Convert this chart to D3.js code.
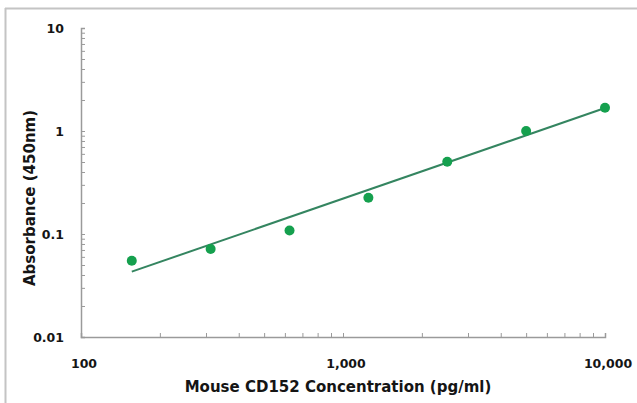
<!DOCTYPE html>
<html>
<head>
<meta charset="utf-8">
<script src="https://cdn.jsdelivr.net/npm/d3@7"></script>
<style>
  body { margin: 0; background: #fff; }
  svg { display: block; font-family: "DejaVu Sans", "Liberation Sans", sans-serif; }
  .tick-label { font-size: 12.5px; font-weight: bold; fill: #151515; }
  .axis-title { font-size: 15px; font-weight: bold; fill: #151515; }
</style>
</head>
<body>
<script>
// --- data ---
const concentrations = [156.25, 312.5, 625, 1250, 2500, 5000, 10000];
const absorbance = [0.055, 0.0715, 0.108, 0.225, 0.503, 1.0, 1.68];
// fitted standard curve (straight on log-log)
const fitX = [156.25, 10000];
const fitY = [0.0431, 1.67];
const xTickValues = [100, 1000, 10000];
const xTickLabels = ['100', '1,000', '10,000'];
const yTickValues = [0.01, 0.1, 1, 10];
const yTickLabels = ['0.01', '0.1', '1', '10'];

const W = 637, H = 403;
const plot = { left: 81, right: 605, top: 28, bottom: 337 };
const POINT_COLOR = '#15a04e', LINE_COLOR = '#348560', AXIS_COLOR = '#9a9a9a';

const svg = d3.select('body').append('svg').attr('width', W).attr('height', H);

// outer frame (top and left edges only visible)
svg.append('line').attr('x1', 5).attr('x2', W).attr('y1', 8.5).attr('y2', 8.5)
    .attr('stroke', '#c4c4c4').attr('stroke-width', 2);
svg.append('line').attr('x1', 5.5).attr('x2', 5.5).attr('y1', 8).attr('y2', H)
    .attr('stroke', '#c4c4c4').attr('stroke-width', 2);

const x = d3.scaleLog().domain([100, 10000]).range([plot.left, plot.right]);
const y = d3.scaleLog().domain([0.01, 10]).range([plot.bottom, plot.top]);

// minor ticks: every 1..9 multiple within each decade
const minor = (dom) => {
    const out = [];
    for (let e = Math.log10(dom[0]); e < Math.log10(dom[1]); e++) {
        for (let m = 1; m <= 9; m++) out.push(m * Math.pow(10, e));
    }
    out.push(dom[1]);
    return out;
};

// x axis, ticks pointing up into the plot
const xAxis = d3.axisBottom(x).tickValues(minor(x.domain())).tickSize(-4).tickFormat('');
const gx = svg.append('g').attr('transform', `translate(0,${plot.bottom})`).call(xAxis);
gx.select('.domain').attr('stroke', AXIS_COLOR).attr('stroke-width', 1.5);
gx.selectAll('.tick line').attr('stroke', AXIS_COLOR);

// y axis, ticks pointing right into the plot
const yAxis = d3.axisLeft(y).tickValues(minor(y.domain())).tickSize(-4).tickFormat('');
const gy = svg.append('g').attr('transform', `translate(${plot.left},0)`).call(yAxis);
gy.select('.domain').attr('stroke', AXIS_COLOR).attr('stroke-width', 1.5);
gy.selectAll('.tick line').attr('stroke', AXIS_COLOR);

// tick labels
svg.selectAll('.xlab').data(xTickValues).enter().append('text')
    .attr('class', 'tick-label').attr('text-anchor', 'middle')
    .attr('x', d => x(d) + 3).attr('y', 368)
    .text((d, i) => xTickLabels[i]);

svg.selectAll('.ylab').data(yTickValues).enter().append('text')
    .attr('class', 'tick-label').attr('text-anchor', 'end')
    .attr('x', 64).attr('y', d => y(d) + 5)
    .text((d, i) => yTickLabels[i]);

// axis titles
svg.append('text').attr('class', 'axis-title').attr('text-anchor', 'middle')
    .attr('x', 338).attr('y', 392).text('Mouse CD152 Concentration (pg/ml)');
svg.append('text').attr('class', 'axis-title').attr('text-anchor', 'middle')
    .attr('transform', 'translate(35,198) rotate(-90)').text('Absorbance (450nm)');

// fit line
const line = d3.line().x(d => x(d[0])).y(d => y(d[1]));
svg.append('path').datum(d3.zip(fitX, fitY)).attr('d', line)
    .attr('fill', 'none').attr('stroke', LINE_COLOR).attr('stroke-width', 2);

// points
svg.selectAll('.pt').data(d3.zip(concentrations, absorbance)).enter().append('circle')
    .attr('cx', d => x(d[0])).attr('cy', d => y(d[1])).attr('r', 5)
    .attr('fill', POINT_COLOR);
</script>
</body>
</html>
